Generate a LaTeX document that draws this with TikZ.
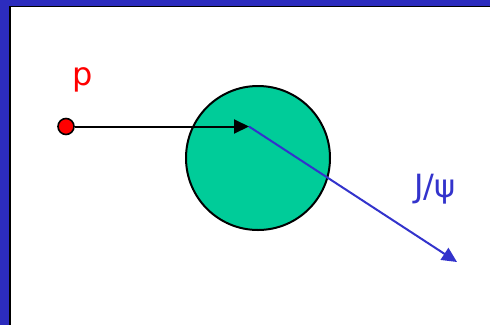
\documentclass[tikz,border=0pt]{standalone}
\usepackage{fontspec}
\setmainfont{DejaVu Sans}
\usetikzlibrary{arrows.meta}
\definecolor{frameblue}{RGB}{44,44,190}
\definecolor{arrowblue}{RGB}{51,51,204}
\definecolor{nucleus}{RGB}{0,204,153}
\tikzset{
  lbl/.style={font=\fontsize{32}{36}\selectfont, anchor=base, inner sep=0pt},
  tipblk/.style={-{Triangle[length=15pt,width=14pt]}},
}
\begin{document}
\begin{tikzpicture}[x=1pt,y=-1pt]
\useasboundingbox (0,0) rectangle (490,325);
\fill[white] (0,0) rectangle (490,325);
% frame
\fill[frameblue] (0,0) rectangle (490,6);
\fill[frameblue] (0,0) rectangle (9,325);
\fill[black] (9,6) rectangle (490,7.3);
\fill[black] (9,6) rectangle (11,325);
% nucleus
\node (nuc) [circle, draw=black, line width=2pt, fill=nucleus, minimum size=144pt, inner sep=0pt] at (258,158) {};
% proton
\node (pdot) [circle, draw=black, line width=1.6pt, fill=red, minimum size=16pt, inner sep=0pt] at (66,126.5) {};
\coordinate (hit) at (249,126.5);
\coordinate (out) at (457,262);
\draw[line width=2pt, black, tipblk] (pdot.east) -- (hit);
\draw[line width=2pt, arrowblue, tipblk] (hit) -- (out);
\node (plbl) [lbl, text=red] at (83,85) {p};
\node (jlbl) [lbl, text=arrowblue] at (435,197) {J/ψ};
\end{tikzpicture}
\end{document}
